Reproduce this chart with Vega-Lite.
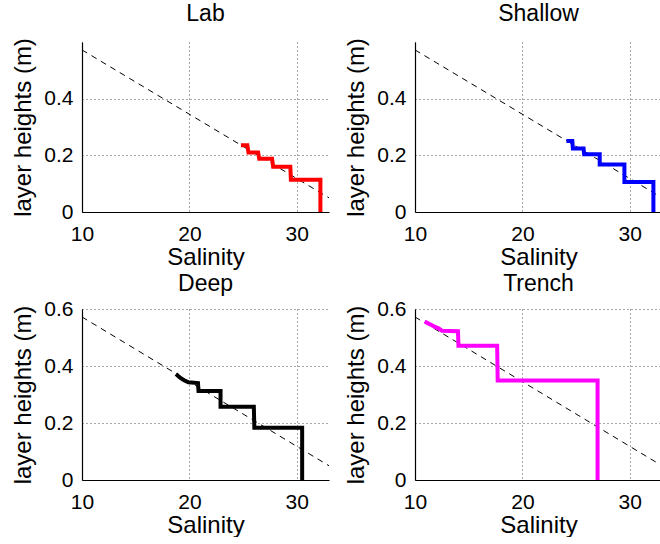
{
  "$schema": "https://vega.github.io/schema/vega-lite/v6.json",
  "padding": {"left": 11, "top": 2, "right": 0, "bottom": 0},
  "background": "white",
  "datasets": {
    "ref": [
      {"S": 10, "h": 0.572},
      {"S": 33, "h": 0.05}
    ],
    "steps": [
      {"panel": "Lab", "i": 1, "S": 24.8, "h": 0.236},
      {"panel": "Lab", "i": 2, "S": 25.4, "h": 0.236},
      {"panel": "Lab", "i": 3, "S": 25.5, "h": 0.21},
      {"panel": "Lab", "i": 4, "S": 26.4, "h": 0.21},
      {"panel": "Lab", "i": 5, "S": 26.5, "h": 0.188},
      {"panel": "Lab", "i": 6, "S": 27.7, "h": 0.188},
      {"panel": "Lab", "i": 7, "S": 27.8, "h": 0.16},
      {"panel": "Lab", "i": 8, "S": 29.4, "h": 0.16},
      {"panel": "Lab", "i": 9, "S": 29.45, "h": 0.114},
      {"panel": "Lab", "i": 10, "S": 32.2, "h": 0.114},
      {"panel": "Lab", "i": 11, "S": 32.2, "h": 0},
      {"panel": "Shallow", "i": 1, "S": 24.1, "h": 0.251},
      {"panel": "Shallow", "i": 2, "S": 24.65, "h": 0.251},
      {"panel": "Shallow", "i": 3, "S": 24.7, "h": 0.224},
      {"panel": "Shallow", "i": 4, "S": 25.7, "h": 0.224},
      {"panel": "Shallow", "i": 5, "S": 25.75, "h": 0.204},
      {"panel": "Shallow", "i": 6, "S": 27.2, "h": 0.204},
      {"panel": "Shallow", "i": 7, "S": 27.2, "h": 0.168},
      {"panel": "Shallow", "i": 8, "S": 29.5, "h": 0.168},
      {"panel": "Shallow", "i": 9, "S": 29.5, "h": 0.106},
      {"panel": "Shallow", "i": 10, "S": 32.2, "h": 0.106},
      {"panel": "Shallow", "i": 11, "S": 32.2, "h": 0},
      {"panel": "Deep", "i": 1, "S": 18.75, "h": 0.372},
      {"panel": "Deep", "i": 2, "S": 19.1, "h": 0.36},
      {"panel": "Deep", "i": 3, "S": 19.5, "h": 0.35},
      {"panel": "Deep", "i": 4, "S": 19.9, "h": 0.343},
      {"panel": "Deep", "i": 5, "S": 20.8, "h": 0.34},
      {"panel": "Deep", "i": 6, "S": 20.85, "h": 0.312},
      {"panel": "Deep", "i": 7, "S": 22.9, "h": 0.312},
      {"panel": "Deep", "i": 8, "S": 22.9, "h": 0.257},
      {"panel": "Deep", "i": 9, "S": 26.0, "h": 0.257},
      {"panel": "Deep", "i": 10, "S": 26.05, "h": 0.183},
      {"panel": "Deep", "i": 11, "S": 30.5, "h": 0.183},
      {"panel": "Deep", "i": 12, "S": 30.5, "h": 0},
      {"panel": "Trench", "i": 1, "S": 10.9, "h": 0.556},
      {"panel": "Trench", "i": 2, "S": 11.3, "h": 0.548},
      {"panel": "Trench", "i": 3, "S": 11.5, "h": 0.545},
      {"panel": "Trench", "i": 4, "S": 11.8, "h": 0.538},
      {"panel": "Trench", "i": 5, "S": 12.2, "h": 0.532},
      {"panel": "Trench", "i": 6, "S": 12.5, "h": 0.524},
      {"panel": "Trench", "i": 7, "S": 14.0, "h": 0.522},
      {"panel": "Trench", "i": 8, "S": 14.05, "h": 0.471},
      {"panel": "Trench", "i": 9, "S": 17.65, "h": 0.471},
      {"panel": "Trench", "i": 10, "S": 17.7, "h": 0.349},
      {"panel": "Trench", "i": 11, "S": 27.0, "h": 0.349},
      {"panel": "Trench", "i": 12, "S": 27.0, "h": 0}
    ]
  },
  "columns": 2,
  "spacing": {"column": 13, "row": 3},
  "concat": [
    {
      "title": {"text": "Lab", "offset": 12},
      "width": 247, "height": 170,
      "encoding": {
        "x": {"field": "S", "type": "quantitative", "scale": {"domain": [10, 33], "nice": false, "zero": false}, "axis": {"title": "Salinity", "values": [10, 20, 30], "format": "d"}},
        "y": {"field": "h", "type": "quantitative", "scale": {"domain": [0, 0.6], "nice": false}, "axis": {"title": "layer heights (m)", "values": [0, 0.2, 0.4], "format": "~g"}}
      },
      "layer": [
        {"data": {"name": "ref"}, "mark": {"type": "line", "strokeDash": [6, 5], "strokeWidth": 1, "color": "black"}},
        {"data": {"name": "steps"}, "transform": [{"filter": "datum.panel === 'Lab'"}], "mark": {"type": "line", "strokeWidth": 4, "color": "#ff0000"}, "encoding": {"order": {"field": "i", "type": "quantitative"}}}
      ]
    },
    {
      "title": {"text": "Shallow", "offset": 12},
      "width": 247, "height": 170,
      "encoding": {
        "x": {"field": "S", "type": "quantitative", "scale": {"domain": [10, 33], "nice": false, "zero": false}, "axis": {"title": "Salinity", "values": [10, 20, 30], "format": "d"}},
        "y": {"field": "h", "type": "quantitative", "scale": {"domain": [0, 0.6], "nice": false}, "axis": {"title": "layer heights (m)", "values": [0, 0.2, 0.4], "format": "~g"}}
      },
      "layer": [
        {"data": {"name": "ref"}, "mark": {"type": "line", "strokeDash": [6, 5], "strokeWidth": 1, "color": "black"}},
        {"data": {"name": "steps"}, "transform": [{"filter": "datum.panel === 'Shallow'"}], "mark": {"type": "line", "strokeWidth": 4, "color": "#0000ff"}, "encoding": {"order": {"field": "i", "type": "quantitative"}}}
      ]
    },
    {
      "title": {"text": "Deep", "offset": 2.5},
      "width": 247, "height": 171,
      "encoding": {
        "x": {"field": "S", "type": "quantitative", "scale": {"domain": [10, 33], "nice": false, "zero": false}, "axis": {"title": "Salinity", "values": [10, 20, 30], "format": "d"}},
        "y": {"field": "h", "type": "quantitative", "scale": {"domain": [0, 0.6], "nice": false}, "axis": {"title": "layer heights (m)", "values": [0, 0.2, 0.4, 0.6], "format": "~g"}}
      },
      "layer": [
        {"data": {"name": "ref"}, "mark": {"type": "line", "strokeDash": [6, 5], "strokeWidth": 1, "color": "black"}},
        {"data": {"name": "steps"}, "transform": [{"filter": "datum.panel === 'Deep'"}], "mark": {"type": "line", "strokeWidth": 4, "color": "#000000"}, "encoding": {"order": {"field": "i", "type": "quantitative"}}}
      ]
    },
    {
      "title": {"text": "Trench", "offset": 2.5},
      "width": 247, "height": 171,
      "encoding": {
        "x": {"field": "S", "type": "quantitative", "scale": {"domain": [10, 33], "nice": false, "zero": false}, "axis": {"title": "Salinity", "values": [10, 20, 30], "format": "d"}},
        "y": {"field": "h", "type": "quantitative", "scale": {"domain": [0, 0.6], "nice": false}, "axis": {"title": "layer heights (m)", "values": [0, 0.2, 0.4, 0.6], "format": "~g"}}
      },
      "layer": [
        {"data": {"name": "ref"}, "mark": {"type": "line", "strokeDash": [6, 5], "strokeWidth": 1, "color": "black"}},
        {"data": {"name": "steps"}, "transform": [{"filter": "datum.panel === 'Trench'"}], "mark": {"type": "line", "strokeWidth": 4, "color": "#ff00ff"}, "encoding": {"order": {"field": "i", "type": "quantitative"}}}
      ]
    }
  ],
  "config": {
    "font": "Liberation Sans",
    "view": {"stroke": null},
    "axis": {
      "domainColor": "black", "domainWidth": 1.2, "ticks": false,
      "labelFontSize": 21, "labelColor": "black", "labelFlush": false, "labelPadding": 9,
      "titleFontSize": 24, "titleFontWeight": "normal", "titleColor": "black", "titlePadding": 8,
      "grid": true, "gridColor": "black", "gridDash": [1, 3], "gridOpacity": 0.7, "gridWidth": 1
    },
    "axisX": {"labelPadding": 11, "titlePadding": 1},
    "title": {"fontSize": 23, "fontWeight": "normal", "color": "black", "anchor": "middle"}
  }
}
